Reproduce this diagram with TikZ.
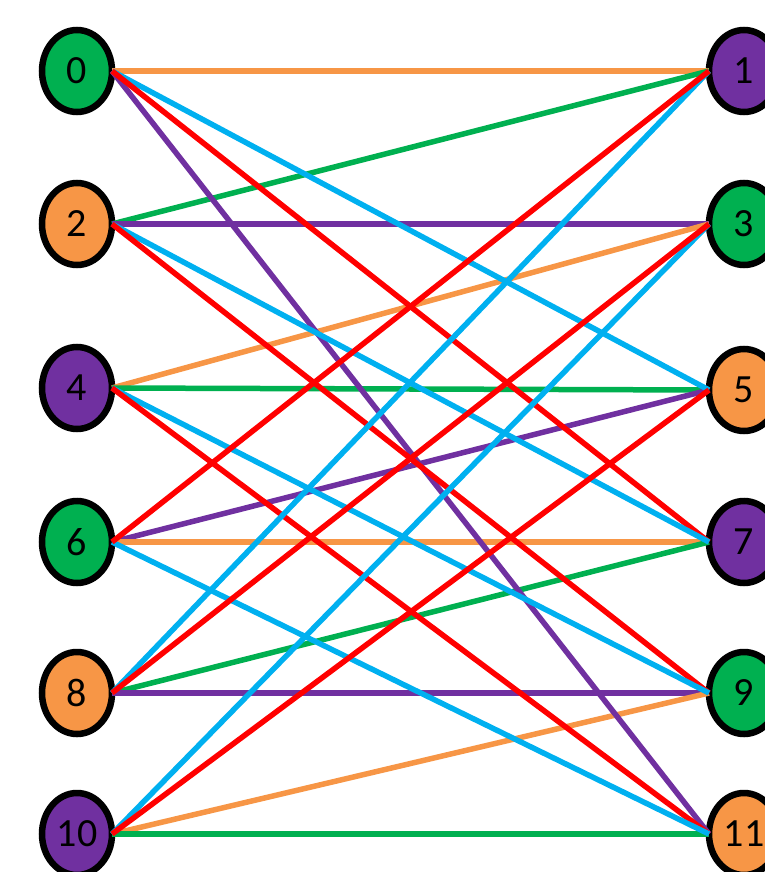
\documentclass[tikz,border=0pt]{standalone}
\usepackage{fontspec}
\setmainfont{Carlito}
\usetikzlibrary{shapes.geometric}
\definecolor{cgreen}{HTML}{00B050}
\definecolor{corange}{HTML}{F79646}
\definecolor{cpurple}{HTML}{7030A0}
\definecolor{cred}{HTML}{FF0000}
\definecolor{cblue}{HTML}{00B0F0}
\tikzset{
  vtx/.style={ellipse, draw=black, line width=6.5pt, minimum width=70pt, minimum height=82pt, inner sep=0pt, outer sep=0pt, font=\fontsize{40}{40}\selectfont, text=black},
  edg/.style={line width=5.5pt}
}
\begin{document}
\begin{tikzpicture}[x=1pt,y=-1pt]
\useasboundingbox (0,0) rectangle (764,872);
\node[vtx, fill=cgreen]  (n0)  at (77,71)  {0};
\node[vtx, fill=corange] (n2)  at (77,224) {2};
\node[vtx, fill=cpurple] (n4)  at (77,388) {4};
\node[vtx, fill=cgreen]  (n6)  at (77,542) {6};
\node[vtx, fill=corange] (n8)  at (77,693) {8};
\node[vtx, fill=cpurple] (n10) at (77,834) {10};
\node[vtx, fill=cpurple] (n1)  at (744,71)  {1};
\node[vtx, fill=cgreen]  (n3)  at (744,224) {3};
\node[vtx, fill=corange] (n5)  at (744,390) {5};
\node[vtx, fill=cpurple] (n7)  at (744,542) {7};
\node[vtx, fill=cgreen]  (n9)  at (744,693) {9};
\node[vtx, fill=corange] (n11) at (744,834) {11};
% edges
\draw[edg, corange] (n0.east) -- (n1.west);
\draw[edg, cgreen]  (n2.east) -- (n1.west);
\draw[edg, cpurple] (n2.east) -- (n3.west);
\draw[edg, corange] (n4.east) -- (n3.west);
\draw[edg, cgreen]  (n4.east) -- (n5.west);
\draw[edg, cpurple] (n6.east) -- (n5.west);
\draw[edg, corange] (n6.east) -- (n7.west);
\draw[edg, cgreen]  (n8.east) -- (n7.west);
\draw[edg, cpurple] (n8.east) -- (n9.west);
\draw[edg, corange] (n10.east) -- (n9.west);
\draw[edg, cgreen]  (n10.east) -- (n11.west);
\draw[edg, cpurple] (n0.east) -- (n11.west);
\draw[edg, cblue]   (n0.east) -- (n5.west);
\draw[edg, cred]    (n0.east) -- (n7.west);
\draw[edg, cblue]   (n2.east) -- (n7.west);
\draw[edg, cred]    (n2.east) -- (n9.west);
\draw[edg, cblue]   (n4.east) -- (n9.west);
\draw[edg, cred]    (n4.east) -- (n11.west);
\draw[edg, cblue]   (n6.east) -- (n11.west);
\draw[edg, cblue]   (n8.east) -- (n1.west);
\draw[edg, cblue]   (n10.east) -- (n3.west);
\draw[edg, cred]    (n6.east) -- (n1.west);
\draw[edg, cred]    (n8.east) -- (n3.west);
\draw[edg, cred]    (n10.east) -- (n5.west);
\end{tikzpicture}
\end{document}
